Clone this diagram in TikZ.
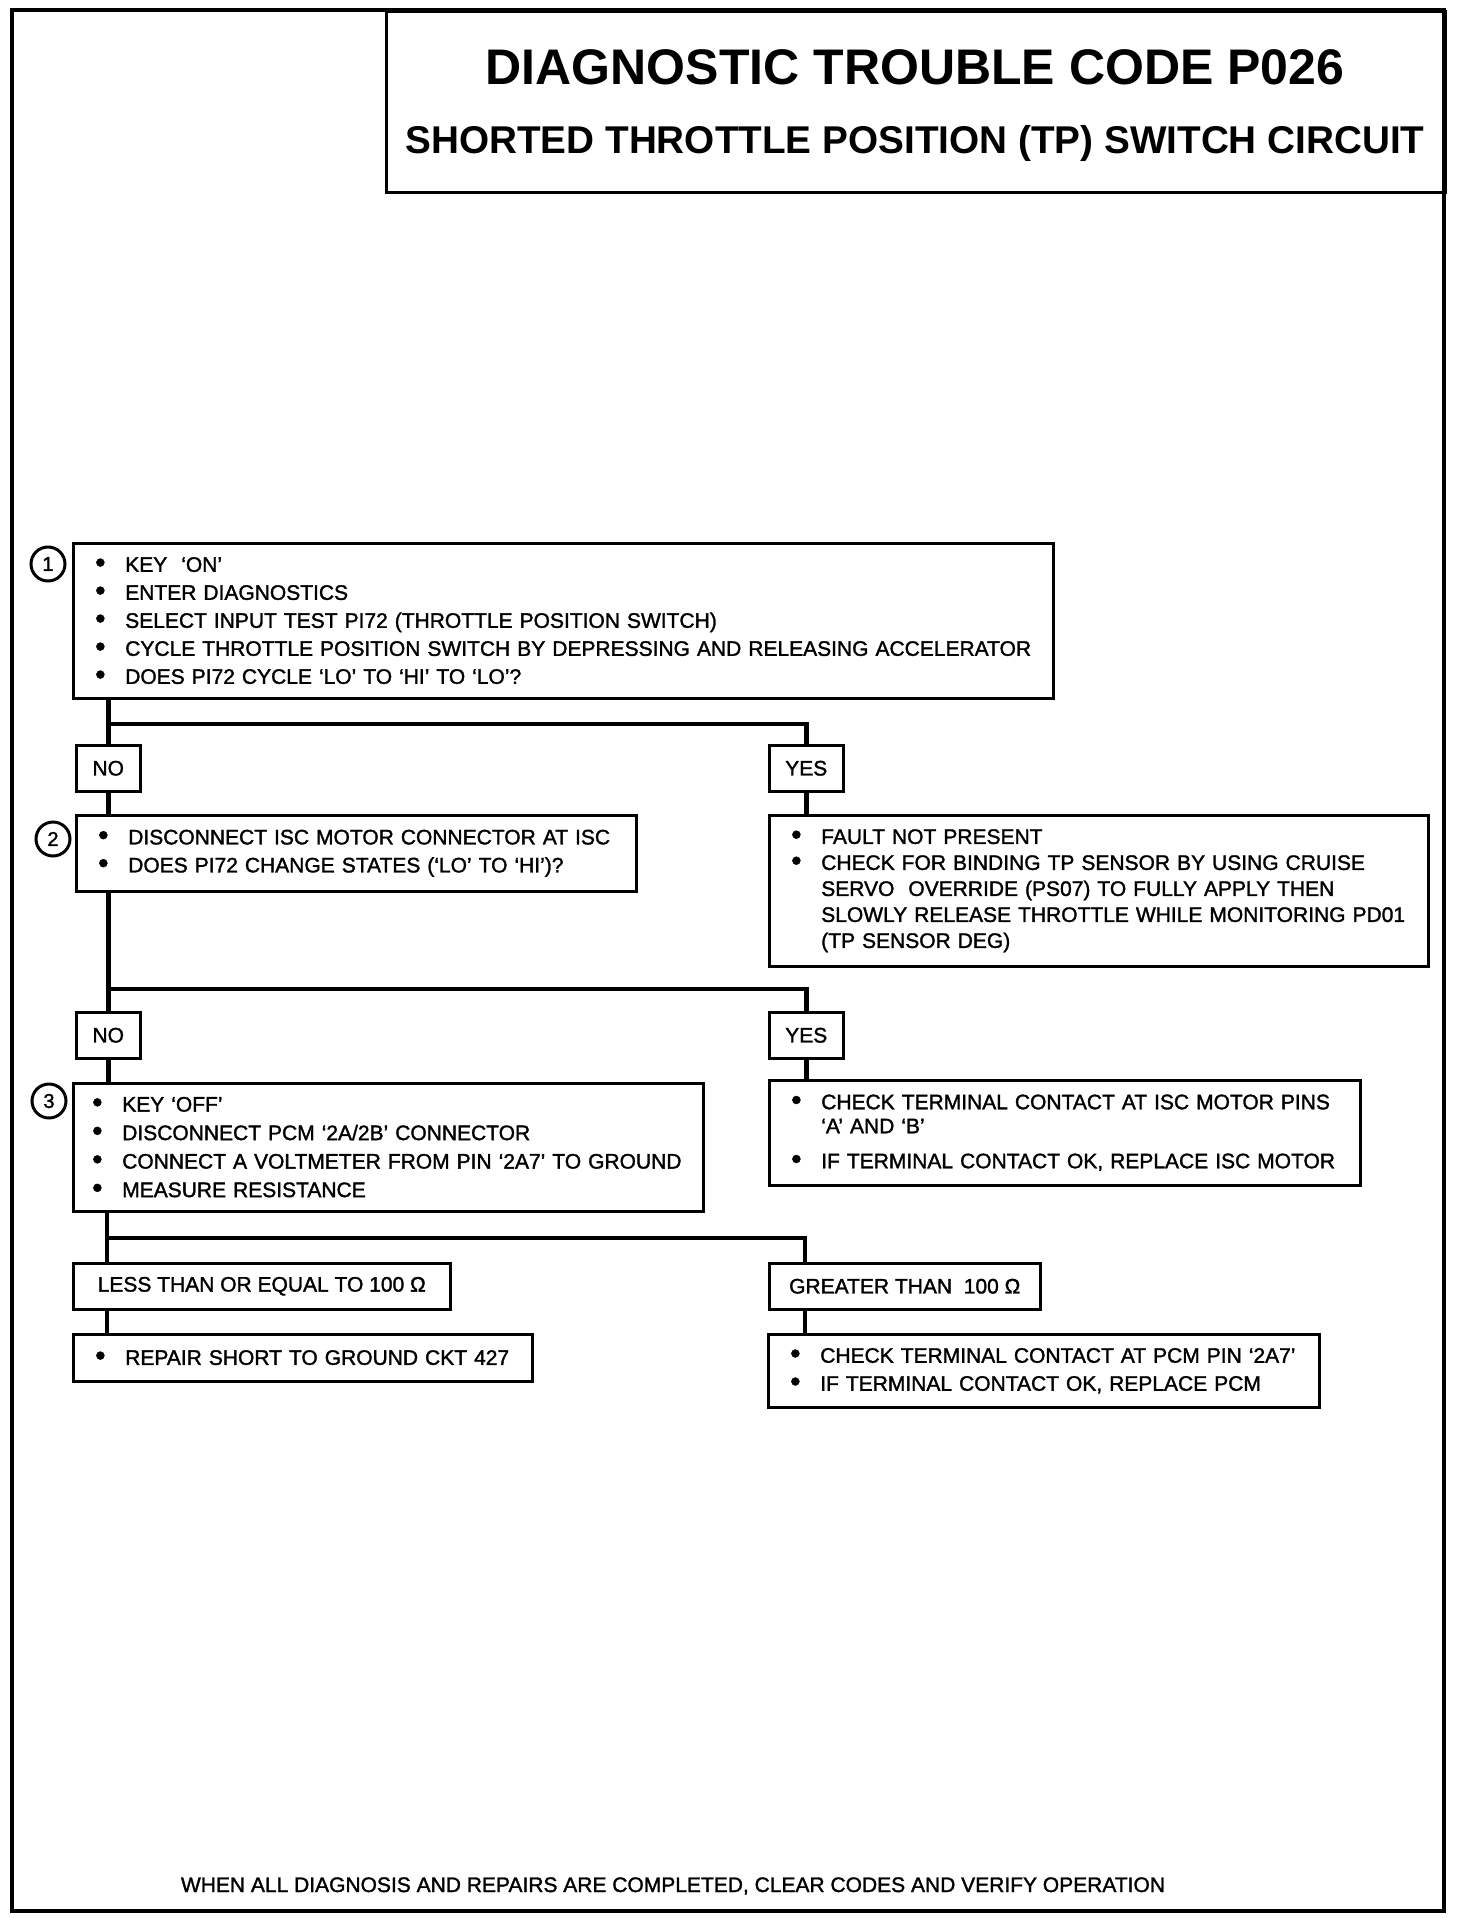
\documentclass[tikz,border=0pt]{standalone}
\usepackage{fontspec}
\setmainfont{Liberation Sans}
\newfontfamily\bodyfont[Ligatures=TeX, FakeBold=1.5]{Liberation Sans}
\usetikzlibrary{positioning}
\newcommand{\itm}{\makebox[30pt][l]{\raisebox{-0.5pt}{\scalebox{1.4}{\textbullet}}}}
\newcommand{\cnt}{\hspace*{30pt}}

\begin{document}
\begin{tikzpicture}[x=1pt, y=-1pt,
  stepbox/.style={draw, line width=2.5pt, anchor=north west, inner xsep=22pt, inner ysep=0pt,
                  align=left, font=\bodyfont\fontsize{21}{28}\selectfont},
  answer/.style={draw, line width=2.5pt, anchor=north west, minimum height=46pt, inner sep=0pt,
                 font=\bodyfont\fontsize{21}{25}\selectfont},
  num/.style={circle, draw, line width=3pt, minimum size=34pt, inner sep=0pt,
              font=\bodyfont\fontsize{20}{20}\selectfont},
  conn/.style={line width=4.5pt}
]
\useasboundingbox (0,0) rectangle (1472,1918);

% frame and heading
\draw[line width=4pt] (12,10) rectangle (1444,1911);
\node[draw, line width=3pt, anchor=north west, minimum width=1059pt, minimum height=181pt] (head) at (385,10) {};
\node[font=\fontsize{50}{50}\selectfont\bfseries] (code) at (915,67) {DIAGNOSTIC TROUBLE CODE P026};
\node[font=\fontsize{38.7}{40}\selectfont\bfseries] (name) at (915,143) {SHORTED THROTTLE POSITION (TP) SWITCH CIRCUIT};

% step 1
\node[stepbox, text width=936pt, minimum height=155pt] (s1) at (72,542)
  {\itm KEY\ \ `ON'\\
   \itm ENTER DIAGNOSTICS\\
   \itm SELECT INPUT TEST PI72 (THROTTLE POSITION SWITCH)\\
   \itm CYCLE THROTTLE POSITION SWITCH BY DEPRESSING AND RELEASING ACCELERATOR\\
   \itm DOES PI72 CYCLE `LO' TO `HI' TO `LO'?};
\node[num] (n1) at (48,564) {1};
\node[answer, minimum width=64pt] (no1) at (75,744) {NO};
\node[answer, minimum width=74pt] (yes1) at (768,744) {YES};

% step 2
\node[stepbox, text width=516pt, minimum height=76pt] (s2) at (75,814)
  {\itm DISCONNECT ISC MOTOR CONNECTOR AT ISC\\
   \itm DOES PI72 CHANGE STATES (`LO' TO `HI')?};
\node[num] (n2) at (53,839) {2};
\node[stepbox, text width=615pt, minimum height=151pt, font=\bodyfont\fontsize{21}{26}\selectfont] (fault) at (768,814)
  {\itm FAULT NOT PRESENT\\
   \itm CHECK FOR BINDING TP SENSOR BY USING CRUISE\\
   \cnt SERVO\ \ OVERRIDE (PS07) TO FULLY APPLY THEN\\
   \cnt SLOWLY RELEASE THROTTLE WHILE MONITORING PD01\\
   \cnt (TP SENSOR DEG)};
\node[answer, minimum width=64pt] (no2) at (75,1011) {NO};
\node[answer, minimum width=74pt] (yes2) at (768,1011) {YES};

% step 3
\node[stepbox, text width=592pt, inner xsep=19pt, minimum height=128pt, font=\bodyfont\fontsize{21}{28.5}\selectfont] (s3) at (72,1082)
  {\itm KEY `OFF'\\
   \itm DISCONNECT PCM `2A/2B' CONNECTOR\\
   \itm CONNECT A VOLTMETER FROM PIN `2A7' TO GROUND\\
   \itm MEASURE RESISTANCE};
\node[num] (n3) at (49,1101) {3};
\node[stepbox, text width=547pt, minimum height=105pt, font=\bodyfont\fontsize{21}{24}\selectfont] (isc) at (768,1079)
  {\itm CHECK TERMINAL CONTACT AT ISC MOTOR PINS\\
   \cnt `A' AND `B'\\[11pt]
   \itm IF TERMINAL CONTACT OK, REPLACE ISC MOTOR};
\node[answer, minimum width=377pt] (less) at (72,1262) {LESS THAN OR EQUAL TO 100 Ω};
\node[answer, minimum width=271pt] (greater) at (768,1262) {GREATER THAN\ \ 100 Ω};
\node[stepbox, text width=415pt, minimum height=47pt] (repair) at (72,1333)
  {\itm REPAIR SHORT TO GROUND CKT 427};
\node[stepbox, text width=507pt, minimum height=73pt] (pcm) at (767,1333)
  {\itm CHECK TERMINAL CONTACT AT PCM PIN `2A7'\\
   \itm IF TERMINAL CONTACT OK, REPLACE PCM};

% connectors
\coordinate (b1) at (107,724);
\coordinate (b2) at (107,989);
\coordinate (b3) at (107,1238);
\coordinate (r3) at (805,1238);
\draw[conn] (no1.north |- s1.south) -- (no1.north);
\draw[conn] (b1) -| (yes1.north);
\draw[conn] (no1.south) -- (no1.south |- s2.north);
\draw[conn] (yes1.south) -- (yes1.south |- fault.north);
\draw[conn] (no2.north |- s2.south) -- (no2.north);
\draw[conn] (b2) -| (yes2.north);
\draw[conn] (no2.south) -- (no2.south |- s3.north);
\draw[conn] (yes2.south) -- (yes2.south |- isc.north);
\draw[conn] (b3 |- s3.south) -- (b3 |- less.north);
\draw[conn] (b3) -- (r3) -- (r3 |- greater.north);
\draw[conn] (b3 |- less.south) -- (b3 |- repair.north);
\draw[conn] (r3 |- greater.south) -- (r3 |- pcm.north);

\node[font=\bodyfont\fontsize{21}{25}\selectfont] (note) at (673,1886) {WHEN ALL DIAGNOSIS AND REPAIRS ARE COMPLETED, CLEAR CODES AND VERIFY OPERATION};
\end{tikzpicture}
\end{document}
